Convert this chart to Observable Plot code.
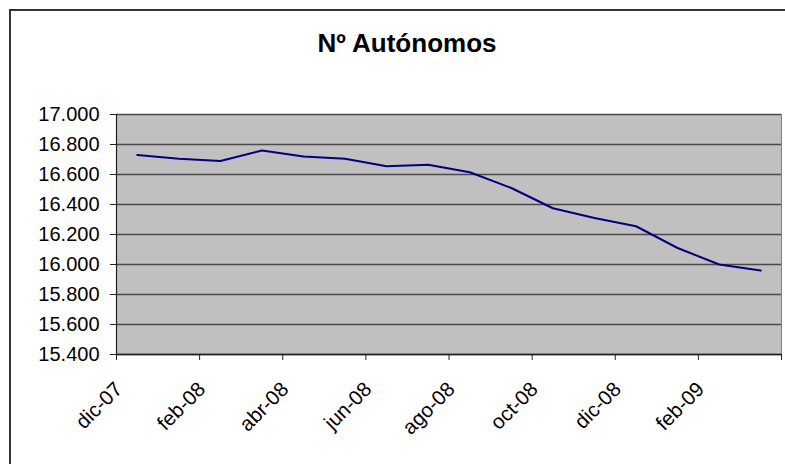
<!DOCTYPE html>
<html>
<head>
<meta charset="utf-8">
<script src="https://cdn.jsdelivr.net/npm/d3@7"></script>
<script src="https://cdn.jsdelivr.net/npm/@observablehq/plot@0.6"></script>
<style>
  html, body { margin: 0; padding: 0; background: #fff; overflow: hidden; }
  #wrap { position: relative; width: 785px; height: 464px; overflow: hidden; font-family: "Liberation Sans", Arial, sans-serif; }
  #border { position: absolute; left: 9px; top: 9px; width: 800px; height: 500px; border: 2px solid #333; box-sizing: border-box; }
  #title { position: relative; height: 80px; line-height: 86px; padding-left: 29px; text-align: center; font-weight: bold; font-size: 26px; color: #000; }
  #chart { position: relative; }
</style>
</head>
<body>
<div id="wrap">
  <div id="border"></div>
  <div id="title">Nº Autónomos</div>
  <div id="chart"></div>
</div>
<script>
const months = ["dic-07","ene-08","feb-08","mar-08","abr-08","may-08","jun-08","jul-08","ago-08","sep-08","oct-08","nov-08","dic-08","ene-09","feb-09","mar-09"];
const values = [16730, 16705, 16690, 16760, 16720, 16705, 16655, 16665, 16615, 16510, 16375, 16310, 16255, 16110, 16000, 15960];
const yTicks = [15400, 15600, 15800, 16000, 16200, 16400, 16600, 16800, 17000];
const xTickIdx = [0, 2, 4, 6, 8, 10, 12, 14, 16];
const xLabelIdx = [0, 2, 4, 6, 8, 10, 12, 14];

const data = months.map((m, i) => ({month: m, idx: i + 0.5, value: values[i]}));
const fmt = d3.formatLocale({decimal: ",", thousands: ".", grouping: [3], currency: ["", "€"]}).format(",d");

const chart = Plot.plot({
  width: 785,
  height: 384,
  marginLeft: 116,
  marginRight: 4,
  marginTop: 34,
  marginBottom: 110,
  style: {fontFamily: "'Liberation Sans', Arial, sans-serif", background: "transparent", overflow: "visible"},
  x: {type: "linear", domain: [0, 16]},
  y: {domain: [15400, 17000]},
  marks: [
    Plot.frame({fill: "#c0c0c0", stroke: "#808080"}),
    Plot.gridY(yTicks, {stroke: "#4a4a4a", strokeOpacity: 1, strokeWidth: 1.5}),
    Plot.axisY({ticks: yTicks, tickFormat: fmt, tickSize: 6, tickPadding: 11, fontSize: 20, stroke: "#222", color: "#000", label: null}),
    Plot.axisX({ticks: xTickIdx, tickFormat: () => "", tickSize: 6, stroke: "#222", label: null}),
    Plot.ruleX([0], {stroke: "#222", strokeWidth: 1.2}),
    Plot.ruleY([15400], {stroke: "#222", strokeWidth: 1.5}),
    Plot.text(xLabelIdx, {x: d => d, text: d => months[d], frameAnchor: "bottom", rotate: -45, textAnchor: "end", lineAnchor: "bottom", dx: 7, dy: 36, fontSize: 20.5, fill: "#000"}),
    Plot.line(data, {x: "idx", y: "value", stroke: "#000080", strokeWidth: 2})
  ]
});
document.getElementById("chart").appendChild(chart);
</script>
</body>
</html>
